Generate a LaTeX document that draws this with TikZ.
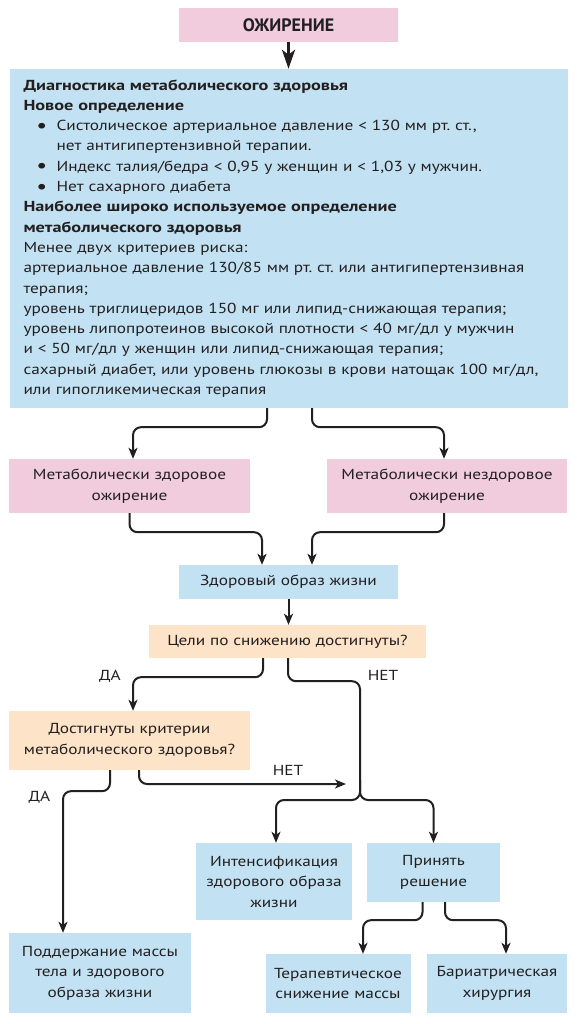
\documentclass[tikz,border=0pt]{standalone}
\usepackage{fontspec}
\setmainfont{PT Sans}[FakeStretch=1.19,BoldFeatures={FakeStretch=1.26}]
\newfontfamily\titlefont{PT Sans}
\usetikzlibrary{arrows.meta}
\definecolor{boxpink}{HTML}{F0CCDD}
\definecolor{boxblue}{HTML}{C2E2F3}
\definecolor{boxpeach}{HTML}{FDE3C8}
\definecolor{ink}{HTML}{231F20}
\newcommand{\bulletmark}{\leavevmode\hbox to 33pt{\hskip13pt\raisebox{-1.5pt}{\scalebox{1.4}{\textbullet}}\hss}}
\frenchspacing
\begin{document}
\begin{tikzpicture}[x=1pt,y=-1pt,
    box/.style={inner sep=0pt,align=center,text=ink,font=\fontsize{14.5}{20.5}\selectfont},
    pinkbox/.style={box,fill=boxpink},
    bluebox/.style={box,fill=boxblue},
    peachbox/.style={box,fill=boxpeach},
    arr/.style={-{Stealth[length=11pt,width=9pt,inset=3pt]},line width=2pt,draw=ink,rounded corners=8pt},
    bigarr/.style={-{Stealth[length=19pt,width=13pt,inset=5pt]},line width=3pt,draw=ink},
    lbl/.style={text=ink,font=\fontsize{14.5}{17}\selectfont,inner sep=0pt}]
    \useasboundingbox (0,0) rectangle (577,1024);
    % boxes
    \node[pinkbox,minimum width=219pt,minimum height=34pt,font=\fontsize{18}{20}\selectfont\titlefont\bfseries] (obesity) at (288.5,25) {ОЖИРЕНИЕ};
    \node[bluebox,align=left,text width=530pt,inner xsep=14pt,minimum height=339pt,font=\fontsize{14.5}{20.3}\selectfont] (diag) at (288.5,238.5) {%
        \textbf{Диагностика метаболического здоровья}\\
        \textbf{Новое определение}\\
        \bulletmark Систолическое артериальное давление < 130 мм рт. ст.,\\
        \hspace*{33pt}нет антигипертензивной терапии.\\
        \bulletmark Индекс талия/бедра < 0,95 у женщин и < 1,03 у мужчин.\\
        \bulletmark Нет сахарного диабета\\
        \textbf{Наиболее широко используемое определение}\\
        \textbf{метаболического здоровья}\\
        Менее двух критериев риска:\\
        артериальное давление 130/85 мм рт. ст. или антигипертензивная\\
        терапия;\\
        уровень триглицеридов 150 мг или липид-снижающая терапия;\\
        уровень липопротеинов высокой плотности < 40 мг/дл у мужчин\\
        и < 50 мг/дл у женщин или липид-снижающая терапия;\\
        сахарный диабет, или уровень глюкозы в крови натощак 100 мг/дл,\\
        или гипогликемическая терапия};
    \node[pinkbox,text width=241pt,minimum height=54pt] (mho) at (129.5,486) {Метаболически здоровое\\ожирение};
    \node[pinkbox,text width=240pt,minimum height=54pt] (muo) at (447,486) {Метаболически нездоровое\\ожирение};
    \node[bluebox,text width=219pt,minimum height=34pt] (life) at (288.5,582) {Здоровый образ жизни};
    \node[peachbox,text width=277pt,minimum height=33pt] (goals) at (287.5,641.5) {Цели по снижению достигнуты?};
    \node[peachbox,text width=241pt,minimum height=59pt] (crit) at (129.5,740.5) {Достигнуты критерии\\метаболического здоровья?};
    \node[bluebox,text width=156pt,minimum height=77pt] (intens) at (274,881.5) {Интенсификация\\здорового образа\\жизни};
    \node[bluebox,text width=133pt,minimum height=59pt] (decide) at (433.5,872.5) {Принять\\решение};
    \node[bluebox,text width=182pt,minimum height=80pt] (keep) at (100,973) {Поддержание массы\\тела и здорового\\образа жизни};
    \node[bluebox,text width=145pt,minimum height=59pt] (therapy) at (338,983.5) {Терапевтическое\\снижение массы};
    \node[bluebox,text width=139.5pt,minimum height=59pt] (surgery) at (497,983.5) {Бариатрическая\\хирургия};
    % labels
    \node[lbl] (yes1) at (110,676) {ДА};
    \node[lbl] (no1) at (383,675) {НЕТ};
    \node[lbl] (yes2) at (39.5,797) {ДА};
    \node[lbl] (no2) at (288,770) {НЕТ};
    \coordinate (split) at (360,800);
    \coordinate (noend) at (346,784);
    % connectors
    \draw[bigarr] (obesity) -- (diag);
    \draw[arr] ([xshift=-21.5pt]diag.south) -- ++(0,19) -| ([xshift=3.5pt]mho.north);
    \draw[arr] ([xshift=23.5pt]diag.south) -- ++(0,19) -| ([xshift=-3pt]muo.north);
    \draw[arr] (mho.south) -- ++(0,19) -| ([xshift=-26.5pt]life.north);
    \draw[arr] ([xshift=-3pt]muo.south) -- ++(0,19) -| ([xshift=23.5pt]life.north);
    \draw[arr] (life.south) -- (life.south |- goals.north);
    \draw[arr] ([xshift=-24.5pt]goals.south) -- ++(0,19) -| ([xshift=3.5pt]crit.north);
    \draw[arr] ([xshift=0.5pt]goals.south) -- ++(0,23) -| (split) -| ([xshift=2pt]intens.north);
    \draw[arr] ([yshift=20pt]split) -- (split) -| (decide.north);
    \draw[arr] ([xshift=-19.5pt]crit.south) -- ++(0,21) -| ([xshift=-37pt]keep.north);
    \draw[arr] ([xshift=9.5pt]crit.south) |- (noend);
    \draw[arr] ([xshift=-11pt]decide.south) -- ++(0,18) -| ([xshift=25pt]therapy.north);
    \draw[arr] ([xshift=11.5pt]decide.south) -- ++(0,18) -| ([xshift=9pt]surgery.north);
\end{tikzpicture}
\end{document}
